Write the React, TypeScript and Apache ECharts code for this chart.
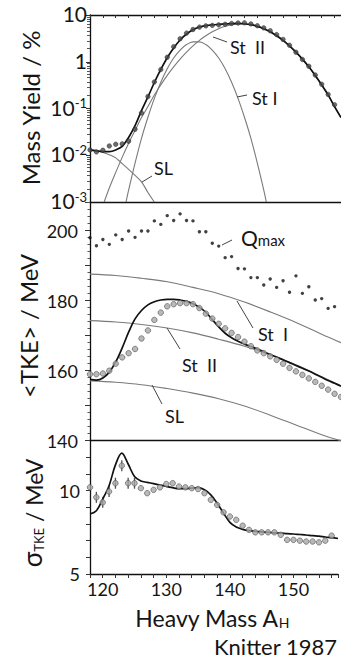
import React, { useEffect, useRef } from "react";
import * as echarts from "echarts";

// ---------- Data ----------
// Heavy mass numbers for integer-sampled series
const massA = [118,119,120,121,122,123,124,125,126,127,128,129,130,131,132,133,134,135,136,137,138,139,140,141,142,143,144,145,146,147,148,149,150,151,152,153,154,155,156,157];

// Mass yield (%) - total fit
const yieldTotal = [0.013,0.0125,0.012,0.012,0.013,0.0155,0.024,0.043,0.09,0.177,0.36,0.685,1.22,1.98,2.92,3.93,4.84,5.53,5.93,6.16,6.3,6.43,6.55,6.6,6.5,6.2,5.72,5.1,4.38,3.6,2.87,2.18,1.6,1.14,0.78,0.51,0.32,0.195,0.11,0.064];
// Mass yield (%) - measured points (118..156)
const yieldMeas = [0.013,0.0118,0.0128,0.0158,0.0172,0.0175,0.02,0.036,0.08,0.18,0.37,0.68,1.25,2.1,3.1,4.1,4.9,5.5,5.85,6.0,6.15,6.35,6.6,6.75,6.8,6.45,5.9,5.3,4.6,3.8,3.0,2.25,1.6,1.12,0.8,0.52,0.33,0.2,0.12];
// Standard I component
const stIMass = [123.6,124,125,126,127,128,129,130,131,132,133,134,135,136,137,138,139,140,141,142,143,144,145,145.4];
const stIYield = [0.001,0.0018,0.0068,0.023,0.065,0.165,0.365,0.71,1.2,1.78,2.33,2.66,2.66,2.33,1.78,1.2,0.71,0.365,0.165,0.065,0.023,0.0068,0.0018,0.001];
// Standard II component
const stIIMass = [120.2,121,122,123,124,125,126,127,128,129,130,131,132,133,134,135,136,137,138,139,140,141,142,143,144,145,146,147,148,149,150,151,152,153,154,155,156,157];
const stIIYield = [0.001,0.002,0.0043,0.009,0.018,0.034,0.064,0.11,0.195,0.32,0.51,0.78,1.14,1.6,2.18,2.87,3.6,4.38,5.1,5.72,6.18,6.42,6.42,6.18,5.72,5.1,4.38,3.6,2.87,2.18,1.6,1.14,0.78,0.51,0.32,0.195,0.11,0.064];
// Super-long component
const slMass = [118,119,120,121,122,123,124,125,126,127,128];
const slYield = [0.0125,0.0123,0.0115,0.0103,0.0088,0.0066,0.005,0.0037,0.0027,0.0016,0.001];

// <TKE> (MeV)
const tkeTotal = [157.5,157.3,157.9,159.6,162.5,166.5,171,174.8,177.2,178.8,179.7,180.2,180.4,180.4,180.2,179.8,179.1,178.1,176.7,174.6,172.5,170.7,169.4,168.4,167.6,166.9,166.2,165.4,164.6,163.9,163.1,162.3,161.5,160.7,159.9,159,158.1,157.2,156.4,155.6];
const tkeMeas = [159.0,159.0,159.2,160.0,162.0,163.8,165.0,166.2,169.2,171.5,174.5,176.6,178.4,179.0,179.3,179.3,179.0,177.9,176.3,174.9,173.4,172.1,170.8,169.6,168.3,167.0,165.8,165.0,164.1,163.1,162.0,160.8,159.8,158.8,157.8,156.8,155.7,154.6,153.4,152.5];
const qmax = [198.0,195.7,197.5,196.1,198.8,197.5,199.9,198.1,199.9,199.9,202.8,201.8,204.3,202.9,204.8,202.9,202.8,199.7,199.7,196.4,195.6,192.3,192.6,189.2,189.1,186.6,186.6,184.5,186.2,183.8,185.7,182.4,187.1,182.1,184.0,180.2,180.6,177.8,178.3];
const tkeModelMass = [118,122,126,130,134,138,142,146,150,154,157];
const tkeStI = [187.6,187.2,186.4,185.4,183.8,182,179.6,176.8,173.8,170.4,168];
const tkeStII = [174.3,173.9,173.2,172.2,170.8,169,167,164.5,161.7,158.3,155.7];
const tkeSL = [157.1,156.7,156,154.9,153.6,152,149.9,147.3,144.5,141.7,140];

// sigma TKE (MeV)
const sigTotal = [8.6,8.8,9.5,10.3,11.55,12.25,11.6,10.85,10.58,10.5,10.42,10.34,10.26,10.18,10.12,10.12,10.15,10.18,10.05,9.75,9.25,8.65,8.1,7.82,7.68,7.6,7.56,7.53,7.5,7.47,7.45,7.42,7.4,7.37,7.34,7.3,7.27,7.22,7.18,7.13];
const sigMeas = [10.2,9.6,9.3,9.95,10.45,11.5,10.45,10.45,10.15,9.85,10.05,10.2,10.4,10.45,10.25,10.2,10.15,10.1,9.85,9.45,9.15,8.7,8.45,8.25,7.9,7.65,7.5,7.5,7.5,7.5,7.35,7.05,7.05,7.0,6.95,6.95,6.9,7.0,7.3];
const errMass = [119,120,121,122,123,124,125];

// tick labels
const xTickLabels = [120, 130, 140, 150];
const tkeTickLabels = [140, 160, 180, 200];
const sigTickLabels = [5, 10];

const zip = (xs: number[], ys: number[]) => ys.map((y, i) => [xs[i], y]);

const FONT = "Lato, 'Open Sans', sans-serif";
const TXT = "#151515";
const GRAY = "#7a7a7a";

export default function App() {
  const ref = useRef<HTMLDivElement>(null);
  useEffect(() => {
    document.body.style.margin = "0";
    const chart = echarts.init(ref.current!, null, { renderer: "svg" });

    const grids = [
      { left: 90, right: 0, top: 15, height: 187 },
      { left: 90, right: 0, top: 202, height: 238.7 },
      { left: 90, right: 0, top: 440.7, height: 133.3 },
    ];
    const baseX = {
      type: "value",
      min: 118,
      max: 157,
      interval: 2,
      splitLine: { show: false },
      axisLine: { show: true, onZero: false, lineStyle: { color: "#111", width: 1.3 } },
      axisTick: { show: false },
      axisLabel: { show: false },
    };
    const xAxes = [
      { ...baseX, gridIndex: 0, position: "bottom" },
      {
        ...baseX,
        gridIndex: 0,
        position: "top",
        axisTick: { show: true, inside: true, length: 3, lineStyle: { color: "#333" } },
      },
      { ...baseX, gridIndex: 1, position: "bottom" },
      {
        ...baseX,
        gridIndex: 2,
        position: "bottom",
        axisTick: { show: true, inside: false, length: 4, lineStyle: { color: "#333" } },
        axisLabel: {
          show: true,
          fontFamily: FONT,
          fontSize: 18,
          color: TXT,
          margin: 6,
          formatter: (v: number) => (xTickLabels.includes(v) ? String(v) : ""),
        },
      },
    ];
    const yAxes = [
      {
        type: "log",
        logBase: 10,
        gridIndex: 0,
        min: 0.001,
        max: 10,
        splitLine: { show: false },
        axisLine: { show: true, lineStyle: { color: "#111", width: 1.3 } },
        axisTick: { show: true, length: 4, lineStyle: { color: "#333" } },
        minorTick: { show: true, splitNumber: 10, length: 3, lineStyle: { color: "#555" } },
        axisLabel: {
          fontFamily: FONT,
          color: TXT,
          margin: 3,
          formatter: (v: number) => {
            if (v >= 1) return `{b|${Math.round(v)}}`;
            const e = Math.round(Math.log10(v));
            return `{b|10}{s|${e}}`;
          },
          rich: {
            b: { fontFamily: FONT, fontSize: 21, color: TXT, verticalAlign: "top", lineHeight: 24 },
            s: { fontFamily: FONT, fontSize: 13, color: TXT, verticalAlign: "top", lineHeight: 17 },
          },
        },
      },
      {
        type: "value",
        gridIndex: 1,
        min: 140,
        max: 208.2,
        interval: 10,
        splitLine: { show: false },
        axisLine: { show: true, lineStyle: { color: "#111", width: 1.3 } },
        axisTick: { show: true, length: 5, lineStyle: { color: "#333" } },
        minorTick: { show: true, splitNumber: 5, length: 2.5, lineStyle: { color: "#555" } },
        axisLabel: {
          fontFamily: FONT,
          fontSize: 18,
          color: TXT,
          margin: 12,
          showMaxLabel: false,
          formatter: (v: number) => (tkeTickLabels.includes(v) ? String(v) : ""),
        },
      },
      {
        type: "value",
        gridIndex: 2,
        min: 5,
        max: 13,
        interval: 1,
        splitLine: { show: false },
        axisLine: { show: true, lineStyle: { color: "#111", width: 1.3 } },
        axisTick: { show: true, length: 4, lineStyle: { color: "#333" } },
        axisLabel: {
          fontFamily: FONT,
          fontSize: 18,
          color: TXT,
          margin: 10,
          formatter: (v: number) => (sigTickLabels.includes(v) ? String(v) : ""),
        },
      },
    ];

    const grayLine = (xi: number, yi: number, data: number[][]) => ({
      type: "line",
      xAxisIndex: xi,
      yAxisIndex: yi,
      data,
      smooth: 0.35,
      showSymbol: false,
      symbol: "none",
      lineStyle: { color: GRAY, width: 1.1 },
      z: 2,
    });
    const blackLine = (xi: number, yi: number, data: number[][]) => ({
      type: "line",
      xAxisIndex: xi,
      yAxisIndex: yi,
      data,
      smooth: 0.35,
      showSymbol: false,
      symbol: "none",
      lineStyle: { color: "#111", width: 1.7 },
      z: 3,
    });

    const series: any[] = [
      blackLine(0, 0, zip(massA, yieldTotal)),
      grayLine(0, 0, zip(stIMass, stIYield)),
      grayLine(0, 0, zip(stIIMass, stIIYield)),
      grayLine(0, 0, zip(slMass, slYield)),
      {
        type: "scatter",
        xAxisIndex: 0,
        yAxisIndex: 0,
        data: zip(massA, yieldMeas),
        symbolSize: 4.5,
        itemStyle: { color: "#4a4a4a", borderColor: "#222", borderWidth: 0.6 },
        z: 4,
      },
      blackLine(2, 1, zip(massA, tkeTotal)),
      grayLine(2, 1, zip(tkeModelMass, tkeStI)),
      grayLine(2, 1, zip(tkeModelMass, tkeStII)),
      grayLine(2, 1, zip(tkeModelMass, tkeSL)),
      {
        type: "scatter",
        xAxisIndex: 2,
        yAxisIndex: 1,
        data: zip(massA, tkeMeas),
        symbolSize: 5.5,
        itemStyle: { color: "#a8a8a8", borderColor: "#555", borderWidth: 0.8 },
        z: 4,
      },
      {
        type: "scatter",
        xAxisIndex: 2,
        yAxisIndex: 1,
        data: zip(massA, qmax),
        symbolSize: 3.4,
        itemStyle: { color: "#111" },
        z: 4,
      },
      blackLine(3, 2, zip(massA, sigTotal)),
      {
        type: "scatter",
        xAxisIndex: 3,
        yAxisIndex: 2,
        data: errMass.map((m) => [m, sigMeas[massA.indexOf(m)]]),
        symbol: "rect",
        symbolSize: [1.3, 11],
        itemStyle: { color: "#222" },
        z: 4,
      },
      {
        type: "scatter",
        xAxisIndex: 3,
        yAxisIndex: 2,
        data: zip(massA, sigMeas),
        symbolSize: 5.5,
        itemStyle: { color: "#a8a8a8", borderColor: "#555", borderWidth: 0.8 },
        z: 5,
      },
    ];

    const lbl = (x: number, y: number, text: string, size = 18) => ({
      type: "text",
      x,
      y,
      style: { text, fontFamily: FONT, fontSize: size, fill: TXT, textVerticalAlign: "middle" },
      z: 10,
    });
    const leader = (x1: number, y1: number, x2: number, y2: number) => ({
      type: "line",
      shape: { x1, y1, x2, y2 },
      style: { stroke: "#444", lineWidth: 1 },
      z: 10,
    });
    const vtitle = (x: number, y: number, text: string, rich?: any) => ({
      type: "text",
      x,
      y,
      rotation: Math.PI / 2,
      style: {
        text,
        fontFamily: FONT,
        fontSize: 24,
        fill: TXT,
        textAlign: "center",
        textVerticalAlign: "middle",
        rich,
      },
      z: 10,
    });

    const graphic: any[] = [
      vtitle(30, 108, "Mass Yield / %"),
      vtitle(28, 326, "<TKE> / MeV"),
      vtitle(32, 513, "{g|σ}{sub|TKE}{n| / MeV}", {
        g: { fontFamily: FONT, fontSize: 26, fill: TXT, verticalAlign: "bottom" },
        sub: { fontFamily: FONT, fontSize: 13, fill: TXT, verticalAlign: "bottom" },
        n: { fontFamily: FONT, fontSize: 23, fill: TXT, verticalAlign: "bottom" },
      }),
      {
        type: "text",
        x: 212,
        y: 618,
        style: {
          text: "{n|Heavy Mass A}{sub|H}",
          textAlign: "center",
          textVerticalAlign: "middle",
          rich: {
            n: { fontFamily: FONT, fontSize: 23, fill: TXT, verticalAlign: "bottom" },
            sub: { fontFamily: FONT, fontSize: 14, fill: TXT, verticalAlign: "bottom" },
          },
        },
        z: 10,
      },
      {
        type: "text",
        x: 214,
        y: 646,
        style: { text: "Knitter 1987", fontFamily: FONT, fontSize: 22, fill: TXT, textVerticalAlign: "middle" },
        z: 10,
      },
      // top panel labels
      leader(213, 37, 227, 42),
      lbl(230, 47, "St  II"),
      leader(237, 97, 247, 95),
      lbl(252, 98, "St I"),
      leader(142, 182, 152, 176),
      lbl(154, 167.5, "SL"),
      // middle panel labels
      leader(222, 245, 232, 240),
      {
        type: "text",
        x: 241,
        y: 237,
        style: {
          text: "{q|Q}{m|max}",
          textVerticalAlign: "middle",
          rich: {
            q: { fontFamily: FONT, fontSize: 21, fill: TXT, verticalAlign: "bottom" },
            m: { fontFamily: FONT, fontSize: 15, fill: TXT, verticalAlign: "bottom" },
          },
        },
        z: 10,
      },
      leader(237, 301, 253, 328),
      lbl(258, 334, "St  I"),
      leader(167, 328, 180, 349),
      lbl(182, 365, "St  II"),
      leader(152, 385, 162, 404),
      lbl(165, 415.5, "SL"),
    ];

    chart.setOption({
      animation: false,
      backgroundColor: "#fff",
      grid: grids,
      xAxis: xAxes,
      yAxis: yAxes,
      series,
      graphic,
    });
    return () => chart.dispose();
  }, []);
  return <div ref={ref} style={{ width: 341, height: 660 }} />;
}
